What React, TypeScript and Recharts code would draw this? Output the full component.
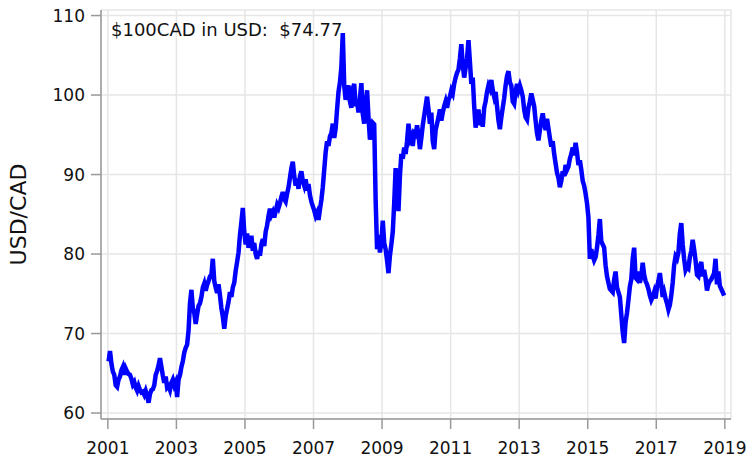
import { LineChart, Line, XAxis, YAxis, CartesianGrid } from "recharts"

// USD value of 100 CAD, two readings per month
const cad2001 = [66.5, 67.8, 66.2, 65.2, 64.8, 63.5, 63.3, 64.2, 64.6, 65.4, 65.8, 64.8, 65.6, 65.2, 64.9, 64.8, 64.3, 63.6, 63.9, 63.2, 62.8, 63.4, 62.9, 62.6]
const cad2002 = [62.7, 62.3, 62.8, 62.2, 61.3, 62.4, 62.9, 63.0, 63.5, 64.8, 65.3, 66.0, 66.9, 65.8, 64.7, 63.8, 64.6, 63.2, 63.4, 62.9, 63.8, 64.2, 63.5, 63.9]
const cad2003 = [62.0, 64.2, 64.8, 65.8, 66.5, 67.6, 68.2, 68.6, 70.4, 73.8, 75.5, 73.2, 72.6, 71.2, 72.4, 73.5, 73.8, 74.6, 75.8, 76.3, 75.4, 76.1, 76.6, 77.2]
const cad2004 = [77.4, 79.4, 76.6, 75.8, 75.1, 76.2, 74.8, 73.2, 72.1, 70.6, 72.2, 73.1, 74.0, 75.2, 74.6, 75.8, 76.4, 77.9, 79.0, 80.2, 82.4, 84.0, 85.8, 82.8]
const cad2005 = [81.2, 82.6, 80.8, 81.6, 82.3, 80.4, 81.4, 80.0, 79.4, 80.4, 79.8, 81.2, 81.9, 81.0, 82.8, 83.6, 84.8, 85.7, 84.9, 85.3, 84.6, 85.4, 86.2, 85.8]
const cad2006 = [86.4, 87.2, 87.8, 86.9, 86.6, 87.6, 88.4, 89.6, 90.8, 91.6, 89.8, 88.6, 89.5, 88.2, 89.8, 90.4, 89.2, 88.6, 89.4, 88.0, 88.8, 87.4, 86.6, 86.0]
const cad2007 = [85.5, 84.8, 85.2, 84.3, 85.6, 86.8, 88.4, 90.6, 92.8, 94.2, 93.6, 94.8, 95.2, 96.4, 94.6, 95.8, 98.2, 100.4, 101.6, 103.5, 107.8, 101.2, 99.4, 100.6]
const cad2008 = [101.2, 99.2, 98.4, 100.8, 101.4, 98.6, 99.2, 97.8, 99.6, 101.5, 97.6, 96.4, 98.8, 100.6, 97.2, 94.4, 95.6, 96.5, 96.3, 86.8, 80.6, 82.4, 80.2, 81.4]
const cad2009 = [84.2, 81.4, 80.6, 79.2, 77.6, 79.8, 81.2, 82.8, 86.4, 90.8, 88.4, 85.4, 89.8, 92.6, 92.0, 93.4, 92.6, 94.2, 96.4, 94.4, 94.8, 93.6, 95.2, 95.0]
const cad2010 = [96.2, 95.0, 93.2, 94.6, 96.2, 97.4, 98.6, 99.8, 98.2, 96.4, 97.8, 94.2, 93.2, 95.6, 96.4, 97.2, 98.2, 96.8, 97.8, 98.6, 99.2, 98.4, 99.4, 99.8]
const cad2011 = [100.6, 100.2, 101.4, 102.2, 102.8, 103.2, 104.6, 106.4, 103.8, 102.2, 103.4, 104.6, 106.9, 104.2, 101.4, 102.2, 98.6, 95.9, 97.4, 98.2, 96.2, 97.6, 96.0, 98.4]
const cad2012 = [99.2, 100.4, 101.2, 100.8, 101.9, 100.6, 99.8, 100.4, 98.6, 96.8, 95.7, 97.2, 98.4, 99.6, 101.2, 102.4, 103.0, 101.6, 101.2, 99.2, 98.9, 100.4, 101.4, 100.6]
const cad2013 = [101.2, 100.6, 99.8, 98.2, 97.2, 96.9, 98.4, 99.2, 100.2, 99.4, 98.6, 96.8, 95.2, 94.3, 95.6, 96.8, 97.7, 96.4, 95.6, 97.0, 95.8, 94.6, 93.5, 94.2]
const cad2014 = [92.6, 91.4, 90.2, 89.6, 88.4, 89.2, 90.4, 89.8, 91.2, 90.6, 91.0, 92.0, 92.6, 93.4, 92.4, 94.0, 92.8, 91.2, 91.8, 90.6, 89.2, 88.6, 87.6, 86.4]
const cad2015 = [84.6, 79.4, 80.6, 79.8, 79.2, 79.6, 80.8, 82.4, 84.4, 81.6, 81.2, 80.8, 78.6, 77.2, 76.4, 75.6, 75.4, 75.2, 76.8, 77.8, 75.8, 75.2, 74.6, 72.4]
const cad2016 = [70.2, 68.8, 71.4, 72.6, 74.2, 75.9, 76.8, 79.4, 80.8, 77.0, 76.8, 77.8, 76.4, 77.2, 78.9, 77.4, 76.6, 76.2, 75.6, 74.8, 74.2, 74.6, 75.2, 74.4]
const cad2017 = [75.8, 76.6, 77.6, 76.2, 74.6, 75.2, 74.4, 73.8, 73.0, 73.6, 74.8, 76.4, 78.6, 79.7, 79.4, 80.2, 82.6, 83.9, 81.2, 79.4, 78.0, 78.4, 78.2, 79.6]
const cad2018 = [80.4, 81.8, 80.6, 79.2, 77.4, 77.2, 78.4, 79.0, 77.2, 78.0, 77.0, 75.4, 76.2, 76.6, 76.8, 77.2, 77.6, 79.4, 76.2, 77.8, 76.0, 75.6, 75.2, 74.77]

const years = [2001, 2002, 2003, 2004, 2005, 2006, 2007, 2008, 2009, 2010, 2011, 2012, 2013, 2014, 2015, 2016, 2017, 2018]
const series = [cad2001, cad2002, cad2003, cad2004, cad2005, cad2006, cad2007, cad2008, cad2009, cad2010, cad2011, cad2012, cad2013, cad2014, cad2015, cad2016, cad2017, cad2018]

const yearTicks = [2001, 2003, 2005, 2007, 2009, 2011, 2013, 2015, 2017, 2019]
const rateTicks = [60, 70, 80, 90, 100, 110]
const latest = "$74.77"

const data = years.flatMap((yr, k) =>
  series[k].map((v, i) => ({ t: yr + (i + 0.5) / 24, rate: v }))
)

const FRAME = "#999999"
const tickStyle = { fill: "#111", fontSize: 17, fontFamily: "DejaVu Sans" }

export default function App() {
  return (
    <div style={{ position: "absolute", left: 0, top: 0, width: 748, height: 460, fontFamily: "DejaVu Sans" }}>
      <LineChart width={748} height={460} data={data} margin={{ top: 10, right: 17, bottom: 0, left: 0 }}>
        <CartesianGrid stroke="#e6e6e6" strokeWidth={1.5} />
        <XAxis
          dataKey="t"
          type="number"
          domain={[2000.8, 2019.18]}
          ticks={yearTicks}
          allowDataOverflow
          height={41}
          tickSize={10}
          tickMargin={13}
          tick={tickStyle}
          stroke={FRAME}
          axisLine={{ stroke: FRAME, strokeWidth: 1.5 }}
          tickLine={{ stroke: FRAME, strokeWidth: 1.5 }}
        />
        <XAxis
          xAxisId="top"
          orientation="top"
          dataKey="t"
          type="number"
          domain={[2000.8, 2019.18]}
          allowDataOverflow
          height={0}
          tick={false}
          tickLine={false}
          axisLine={{ stroke: FRAME, strokeWidth: 1.5 }}
        />
        <YAxis
          type="number"
          domain={[59.25, 110.7]}
          ticks={rateTicks}
          allowDataOverflow
          width={101}
          tickSize={10}
          tickMargin={6}
          tick={tickStyle}
          axisLine={{ stroke: FRAME, strokeWidth: 1.5 }}
          tickLine={{ stroke: FRAME, strokeWidth: 1.5 }}
          label={{
            value: "USD/CAD",
            angle: -90,
            position: "insideLeft",
            offset: 18,
            style: { textAnchor: "middle", fill: "#111", fontSize: 22, fontFamily: "DejaVu Sans" },
          }}
        />
        <YAxis
          yAxisId="right"
          orientation="right"
          type="number"
          domain={[59.25, 110.7]}
          width={0}
          tick={false}
          tickLine={false}
          axisLine={{ stroke: FRAME, strokeWidth: 1.5 }}
        />
        <Line
          type="linear"
          dataKey="rate"
          stroke="#0000ff"
          strokeWidth={4.5}
          dot={false}
          isAnimationActive={false}
        />
      </LineChart>
      <div
        style={{
          position: "absolute",
          left: 111,
          top: 21,
          fontSize: 18,
          lineHeight: "18px",
          color: "#111",
          whiteSpace: "pre",
        }}
      >
        {"$100CAD in USD:  " + latest}
      </div>
    </div>
  )
}
